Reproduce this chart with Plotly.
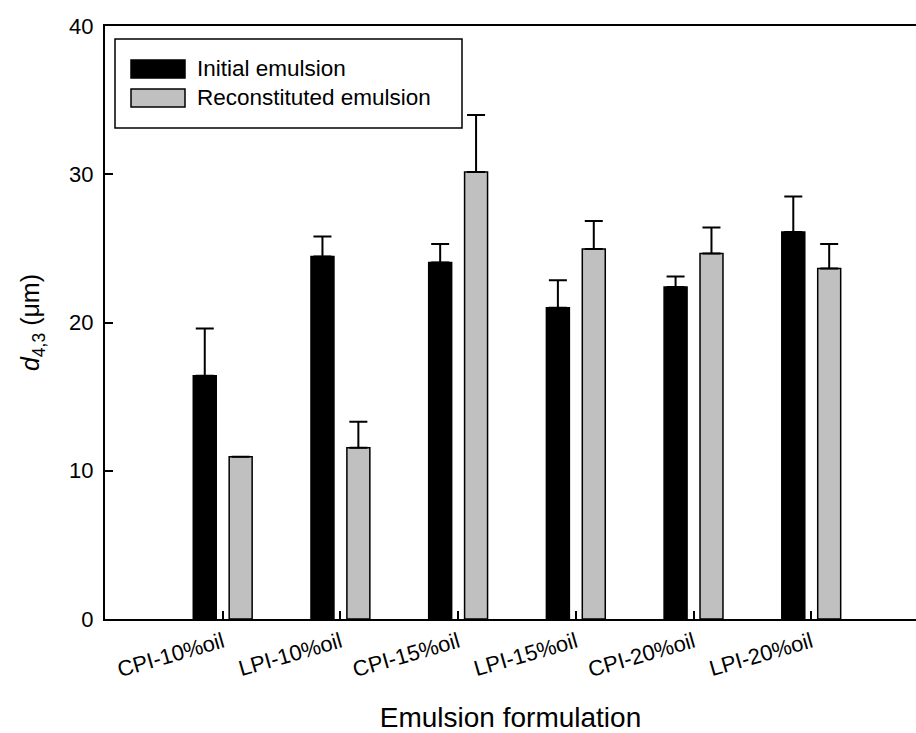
import plotly.graph_objects as go

categories = ["CPI-10%oil", "LPI-10%oil", "CPI-15%oil", "LPI-15%oil", "CPI-20%oil", "LPI-20%oil"]
initial = [16.4, 24.45, 24.05, 21.0, 22.4, 26.1]
initial_err = [3.2, 1.35, 1.25, 1.85, 0.7, 2.4]
reconst = [10.95, 11.55, 30.15, 24.95, 24.65, 23.65]
reconst_err = [0.0, 1.75, 3.85, 1.9, 1.75, 1.65]
series_names = ["Initial emulsion", "Reconstituted emulsion"]
y_ticks = [0, 10, 20, 30, 40]

FONT = "Liberation Sans, Arial, sans-serif"

fig = go.Figure()
fig.add_trace(go.Bar(
    x=categories, y=initial, name=series_names[0],
    marker=dict(color="black", line=dict(color="black", width=1.5)),
    error_y=dict(type="data", array=initial_err, arrayminus=[0]*len(initial_err),
                 symmetric=False, color="black", thickness=2, width=9),
    showlegend=False,
))
fig.add_trace(go.Bar(
    x=categories, y=reconst, name=series_names[1],
    marker=dict(color="#c0c0c0", line=dict(color="black", width=1.5)),
    error_y=dict(type="data", array=reconst_err, arrayminus=[0]*len(reconst_err),
                 symmetric=False, color="black", thickness=2, width=9),
    showlegend=False,
))

W, H = 916, 733
L, R, T, B = 105, 0, 26, 114
pw, ph = W - L - R, H - T - B

def px_x(p):
    return (p - L) / pw

def px_y(p):
    return (H - B - p) / ph

# custom legend
shapes = [
    dict(type="rect", xref="paper", yref="paper",
         x0=px_x(115), x1=px_x(462), y0=px_y(128), y1=px_y(39),
         line=dict(color="black", width=1.5), fillcolor="white", layer="above"),
    dict(type="rect", xref="paper", yref="paper",
         x0=px_x(131), x1=px_x(185), y0=px_y(78), y1=px_y(60),
         line=dict(color="black", width=1.5), fillcolor="black", layer="above"),
    dict(type="rect", xref="paper", yref="paper",
         x0=px_x(131), x1=px_x(185), y0=px_y(107), y1=px_y(89),
         line=dict(color="black", width=1.5), fillcolor="#c0c0c0", layer="above"),
]
annotations = [
    dict(xref="paper", yref="paper", x=px_x(195), y=px_y(69), text=series_names[0],
         showarrow=False, xanchor="left", yanchor="middle",
         font=dict(family=FONT, size=22.5, color="black")),
    dict(xref="paper", yref="paper", x=px_x(195), y=px_y(98), text=series_names[1],
         showarrow=False, xanchor="left", yanchor="middle",
         font=dict(family=FONT, size=22.5, color="black")),
]

fig.update_layout(
    width=W, height=H,
    margin=dict(l=L, r=R, t=T, b=B, autoexpand=False),
    paper_bgcolor="white", plot_bgcolor="white",
    barmode="group", bargap=0.39, bargroupgap=0.36,
    font=dict(family=FONT, color="black"),
    shapes=shapes, annotations=annotations,
    xaxis=dict(
        range=[-1, 5.89], showline=True, linecolor="black", linewidth=2, mirror=True,
        ticks="inside", ticklen=8, tickwidth=1.5, tickcolor="black",
        tickangle=-16, tickfont=dict(size=22, family=FONT),
        showgrid=False, zeroline=False,
        title=dict(text="Emulsion formulation", font=dict(size=28, family=FONT), standoff=34),
    ),
    yaxis=dict(
        range=[0, 40], tickvals=y_ticks, showline=True, linecolor="black", linewidth=2,
        mirror=False, ticks="inside", ticklen=8, tickwidth=1.5, tickcolor="black",
        tickfont=dict(size=22, family=FONT), ticklabelstandoff=5,
        showgrid=False, zeroline=False,
        title=dict(text="<i>d</i><sub>4,3</sub> (μm)", font=dict(size=25, family=FONT), standoff=22),
    ),
)

fig.write_html("out.html")
